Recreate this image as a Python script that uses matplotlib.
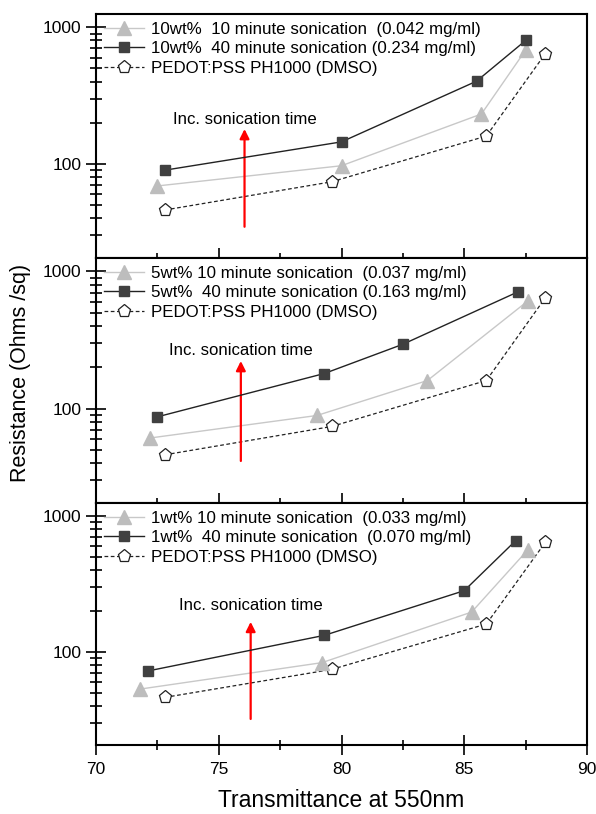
import matplotlib
matplotlib.use("Agg")
import matplotlib.pyplot as plt
from matplotlib.ticker import LogLocator, FixedLocator, NullFormatter, MultipleLocator

plt.rcParams['font.family'] = ['Liberation Sans', 'DejaVu Sans']

# ---------------- data ----------------
# reference PEDOT:PSS PH1000 (DMSO), same in all panels
ref_x = [72.8, 79.6, 85.9, 88.3]
ref_y = [46, 74, 160, 640]

# 10 wt%
p10_x10 = [72.5, 80.0, 85.7, 87.5]
p10_y10 = [69, 97, 232, 680]
p10_x40 = [72.8, 80.0, 85.5, 87.5]
p10_y40 = [90, 145, 403, 800]

# 5 wt%
p5_x10 = [72.2, 79.0, 83.5, 87.6]
p5_y10 = [61, 89, 160, 610]
p5_x40 = [72.5, 79.3, 82.5, 87.2]
p5_y40 = [87, 180, 294, 710]

# 1 wt%
p1_x10 = [71.8, 79.2, 85.3, 87.6]
p1_y10 = [53, 83, 196, 567]
p1_x40 = [72.1, 79.3, 85.0, 87.1]
p1_y40 = [72, 132, 282, 661]

labels_10 = ["10wt%  10 minute sonication  (0.042 mg/ml)",
             "10wt%  40 minute sonication (0.234 mg/ml)"]
labels_5 = ["5wt% 10 minute sonication  (0.037 mg/ml)",
            "5wt%  40 minute sonication (0.163 mg/ml)"]
labels_1 = ["1wt% 10 minute sonication  (0.033 mg/ml)",
            "1wt%  40 minute sonication  (0.070 mg/ml)"]
ref_label = "PEDOT:PSS PH1000 (DMSO)"

# arrow annotations (x, tail y, head y, text y)
arrows = [(76.05, 34.7, 180, 213),
          (75.9, 41.5, 222, 264),
          (76.3, 31.9, 166, 220)]
arrow_text = "Inc. sonication time"

panels = [
    (p10_x10, p10_y10, p10_x40, p10_y40, labels_10),
    (p5_x10, p5_y10, p5_x40, p5_y40, labels_5),
    (p1_x10, p1_y10, p1_x40, p1_y40, labels_1),
]

# ---------------- figure ----------------
fig = plt.figure(figsize=(5.96, 8.14), dpi=100)
L, R = 96 / 596, 587 / 596
bounds = [(14, 258), (258, 503), (503, 745)]

for i, ((x10, y10, x40, y40, labs), (top, bot), arr) in enumerate(zip(panels, bounds, arrows)):
    ax = fig.add_axes([L, 1 - bot / 814, R - L, (bot - top) / 814])
    ax.plot(x10, y10, color='#c8c8c8', lw=1.0, marker='^', ms=9.5,
            mfc='#bdbdbd', mec='#bdbdbd', label=labs[0], zorder=3)
    ax.plot(x40, y40, color='#222222', lw=1.0, marker='s', ms=7.5,
            mfc='#404040', mec='#404040', label=labs[1], zorder=4)
    ax.plot(ref_x, ref_y, color='#222222', lw=0.9, ls=(0, (3, 2)), marker='p', ms=9.5,
            mfc='white', mec='#222222', mew=0.9, label=ref_label, zorder=2)

    ax.set_yscale('log')
    ax.set_xlim(70, 90)
    ax.set_ylim(20.5, 1250)

    ax.annotate('', xy=(arr[0], arr[2]), xytext=(arr[0], arr[1]),
                arrowprops=dict(arrowstyle='-|>', color='red', lw=1.6,
                                mutation_scale=14, shrinkA=0, shrinkB=0))
    ax.text(arr[0], arr[3], arrow_text, ha='center', va='center', fontsize=12.1)

    leg = ax.legend(loc='upper left', frameon=False, fontsize=12.2,
                    handlelength=2.4, handletextpad=0.4, labelspacing=0.27,
                    borderaxespad=0.3, borderpad=0.15)

    ax.yaxis.set_major_locator(FixedLocator([100, 1000]))
    ax.yaxis.set_minor_locator(LogLocator(base=10, subs=range(2, 10)))
    ax.yaxis.set_minor_formatter(NullFormatter())
    ax.set_yticklabels(['100', '1000'])
    ax.xaxis.set_major_locator(MultipleLocator(5))
    ax.xaxis.set_minor_locator(MultipleLocator(2.5))

    for sp in ax.spines.values():
        sp.set_linewidth(1.5)

    ax.tick_params(axis='y', which='major', direction='inout', length=14, width=1.2,
                   labelsize=12.5, right=False)
    ax.tick_params(axis='y', which='minor', direction='inout', length=8.5, width=1.2,
                   right=False)
    if i < 2:
        ax.tick_params(axis='x', which='major', direction='in', length=7.2, width=1.2,
                       labelbottom=False, top=False)
        ax.tick_params(axis='x', which='minor', direction='in', length=3.6, width=1.2,
                       top=False)
    else:
        ax.tick_params(axis='x', which='major', direction='inout', length=14, width=1.2,
                       labelsize=12.5, top=False, pad=5)
        ax.tick_params(axis='x', which='minor', direction='inout', length=7, width=1.2,
                       top=False)
        ax.set_xlabel('Transmittance at 550nm', fontsize=16.5, labelpad=9)

fig.text(21 / 596, 1 - 373 / 814, 'Resistance (Ohms /sq)', rotation=90,
         ha='center', va='center', fontsize=15.5)

fig.savefig('out.png', dpi=100)
